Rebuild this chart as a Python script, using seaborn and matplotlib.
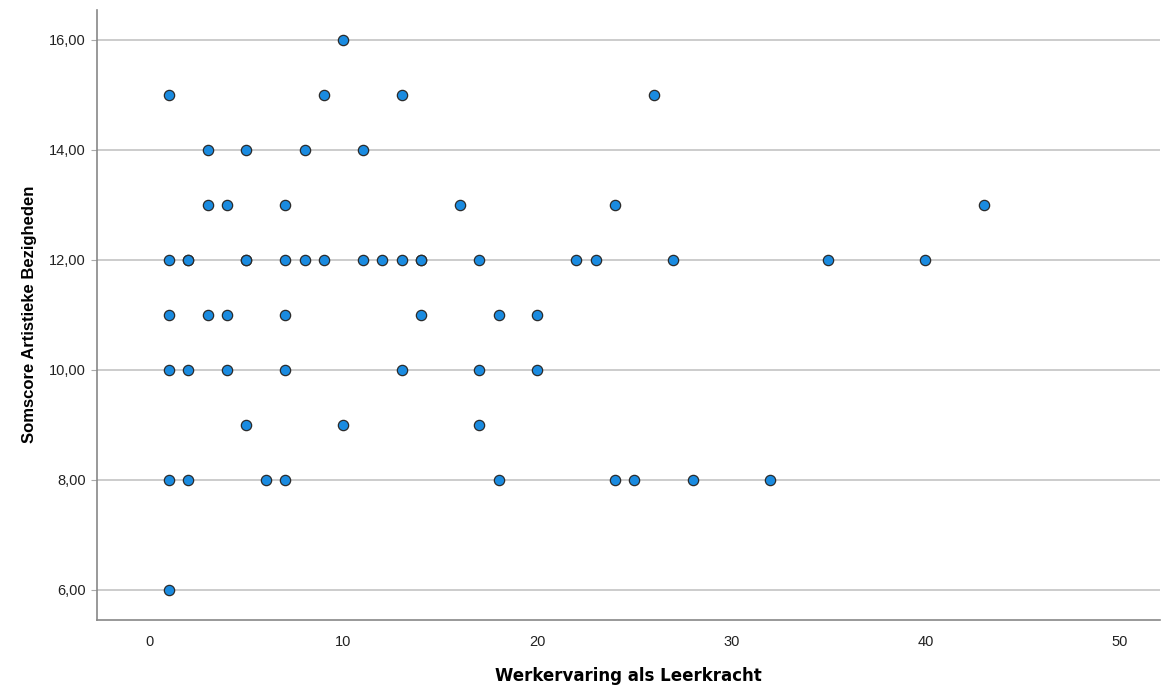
import matplotlib

matplotlib.use("Agg")

import matplotlib.pyplot as plt
import pandas as pd
import seaborn as sns
from matplotlib.ticker import FuncFormatter

# years of teaching experience (x) and sum score artistic activities (y), grouped by score
werkervaring = [
    10,
    1, 9, 13, 26,
    3, 5, 8, 11,
    3, 4, 7, 16, 24, 43,
    1, 2, 2, 5, 5, 7, 8, 9, 11, 12, 13, 14, 14, 17, 22, 23, 27, 35, 40,
    1, 3, 4, 7, 14, 18, 20,
    1, 2, 4, 7, 13, 17, 20,
    5, 10, 17,
    1, 2, 6, 7, 18, 24, 25, 28, 32,
    1,
]
somscore = (
    [16] * 1
    + [15] * 4
    + [14] * 4
    + [13] * 6
    + [12] * 19
    + [11] * 7
    + [10] * 7
    + [9] * 3
    + [8] * 9
    + [6] * 1
)

x_ticks = [0, 10, 20, 30, 40, 50]
y_ticks = [6, 8, 10, 12, 14, 16]

df = pd.DataFrame({"Werkervaring als Leerkracht": werkervaring,
                   "Somscore Artistieke Bezigheden": somscore})

sns.set_theme(style="white")
plt.rcParams["font.family"] = ["Liberation Sans", "DejaVu Sans"]

fig = plt.figure(figsize=(11.62, 6.88), dpi=100)
ax = fig.add_axes([0.0835, 0.099, 0.915, 0.887])

for y in y_ticks:
    ax.axhline(y, color="#c8c8c8", linewidth=1.3, zorder=0)

sns.scatterplot(data=df, x="Werkervaring als Leerkracht", y="Somscore Artistieke Bezigheden",
                ax=ax, s=55, color="#1a8be0", edgecolor="#2b2b2b", linewidth=0.9, zorder=3)

ax.set_xlim(-2.7, 52.1)
ax.set_ylim(5.45, 16.55)
ax.set_xticks(x_ticks)
ax.set_yticks(y_ticks)
ax.yaxis.set_major_formatter(FuncFormatter(lambda v, _p: f"{v:.2f}".replace(".", ",")))
ax.tick_params(axis="x", length=0, pad=11, labelsize=10.5, colors="#222222")
ax.tick_params(axis="y", length=4, width=0.8, color="#aaaaaa", pad=4, labelsize=10.5, colors="#222222", left=True)

for side in ["top", "right"]:
    ax.spines[side].set_visible(False)
for side in ["left", "bottom"]:
    ax.spines[side].set_color("#888888")
    ax.spines[side].set_linewidth(1.2)

ax.set_xlabel("Werkervaring als Leerkracht", fontsize=12, fontweight="bold", labelpad=13,
              color="black", family=["DejaVu Sans"])
ax.set_ylabel("Somscore Artistieke Bezigheden", fontsize=12, fontweight="bold", labelpad=9,
              color="black")

fig.savefig("out.png", dpi=100, facecolor="white")
